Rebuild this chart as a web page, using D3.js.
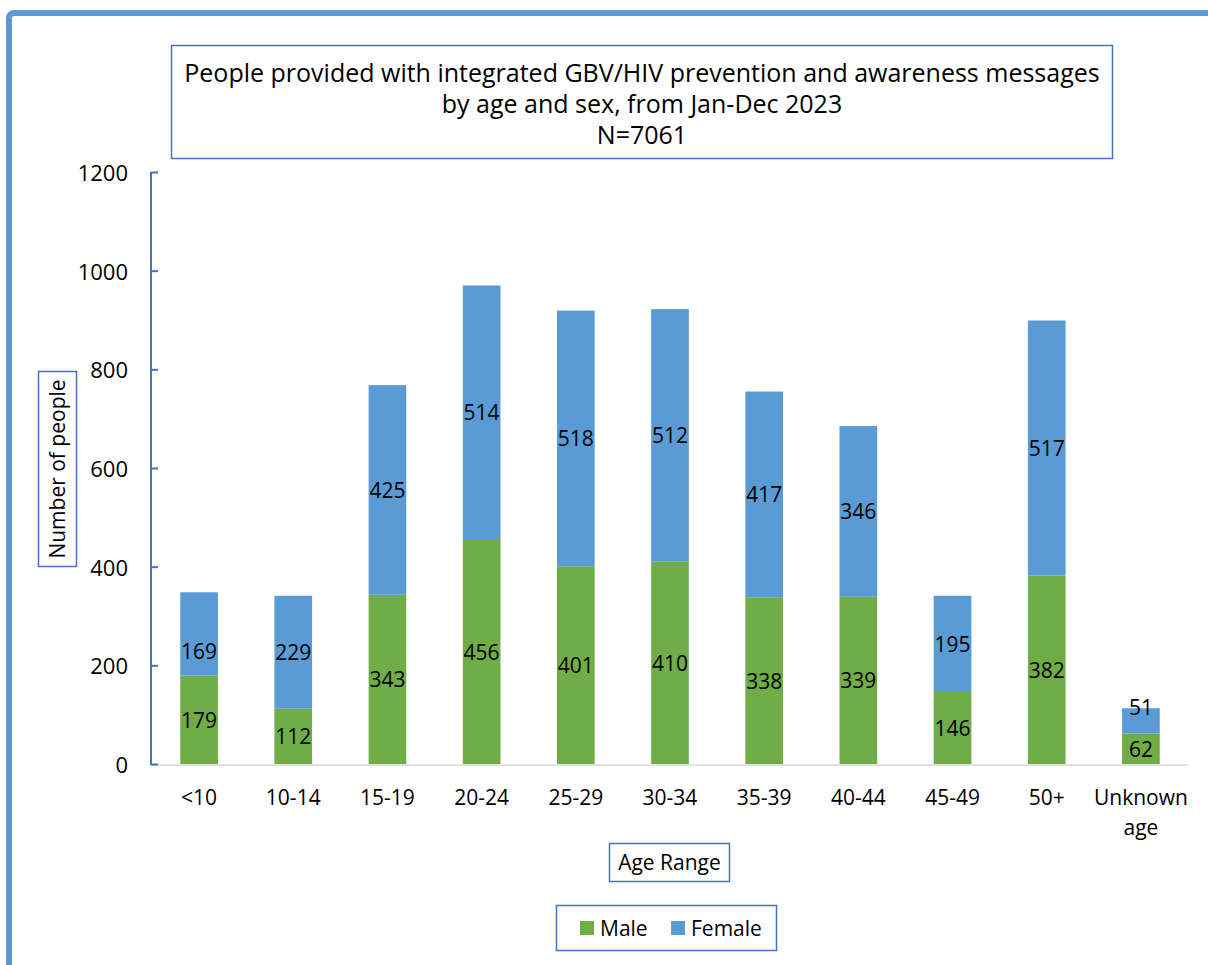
<!DOCTYPE html>
<html>
<head>
<meta charset="utf-8">
<script src="https://cdn.jsdelivr.net/npm/d3@7"></script>
<style>
html,body{margin:0;padding:0;background:#fff;}
svg{display:block;font-family:"Open Sans","Noto Sans",sans-serif;}
</style>
</head>
<body>
<svg id="chart" width="1208" height="965"></svg>
<script>
const categories = ["<10","10-14","15-19","20-24","25-29","30-34","35-39","40-44","45-49","50+","Unknown age"];
const male   = [179,112,343,456,401,410,338,339,146,382,62];
const female = [169,229,425,514,518,512,417,346,195,517,51];
const seriesNames = ["Male","Female"];
const yTicks = [0,200,400,600,800,1000,1200];
const titleLines = ["People provided with integrated GBV/HIV prevention and awareness messages","by age and sex, from Jan-Dec 2023","N=7061"];

const colors = {Male:"#70ad47", Female:"#5b9bd5"};
const frameBlue = "#5b9bd5", axisBlue = "#4472c4";
const FS = 21;

const svg = d3.select("#chart");

// outer frame
svg.append("rect").attr("x",9).attr("y",13).attr("width",1250).attr("height",1000)
  .attr("rx",5).attr("fill","none").attr("stroke",frameBlue).attr("stroke-width",6);

// title box
svg.append("rect").attr("x",171.5).attr("y",45.5).attr("width",941).attr("height",113)
  .attr("fill","#fff").attr("stroke",axisBlue).attr("stroke-width",1.5);
svg.append("g").selectAll("text").data(titleLines).join("text")
  .attr("x",642).attr("y",(d,i)=>72+i*31).attr("text-anchor","middle").attr("dominant-baseline","central")
  .attr("font-size",25).attr("fill","#000").text(d=>d);

const x = d3.scaleBand().domain(categories).range([152,1188]).paddingInner(0.6).paddingOuter(0.3);
const y = d3.scaleLinear().domain([0,1200]).range([764,172]);

const data = categories.map((c,i)=>({cat:c, Male:male[i], Female:female[i]}));
const stack = d3.stack().keys(seriesNames)(data);

// baseline
svg.append("line").attr("x1",150).attr("x2",1188).attr("y1",765).attr("y2",765)
  .attr("stroke","#d9d9d9").attr("stroke-width",1.5);

// bars
const gBars = svg.append("g");
stack.forEach(s=>{
  gBars.append("g").attr("fill",colors[s.key]).selectAll("rect").data(s).join("rect")
    .attr("x",d=>x(d.data.cat)).attr("width",x.bandwidth())
    .attr("y",d=>y(d[1])).attr("height",d=>y(d[0])-y(d[1]));
});

// y axis
const yAxis = d3.axisRight(y).tickValues(yTicks).tickSize(7).tickFormat("");
const gy = svg.append("g").attr("transform","translate(151,0)").call(yAxis);
gy.select(".domain").attr("stroke",axisBlue).attr("stroke-width",2).attr("d","M0,172V765");
gy.selectAll(".tick line").attr("stroke",axisBlue).attr("stroke-width",2);
svg.append("g").selectAll("text").data(yTicks).join("text")
  .attr("x",128).attr("y",d=>y(d)).attr("text-anchor","end").attr("dominant-baseline","central")
  .attr("font-size",22).attr("fill","#000").text(d=>d);

// category labels
const gx = svg.append("g");
categories.forEach(c=>{
  const words = c==="Unknown age" ? ["Unknown","age"] : [c];
  words.forEach((w,j)=>{
    gx.append("text").attr("x",x(c)+x.bandwidth()/2).attr("y",797+j*30)
      .attr("text-anchor","middle").attr("dominant-baseline","central")
      .attr("font-size",FS).attr("fill","#000").text(w);
  });
});

// data labels (a couple were nudged in the original)
const nudge = {"Female|<10":17, "Female|Unknown age":-14};
stack.forEach(s=>{
  svg.append("g").selectAll("text").data(s).join("text")
    .attr("x",d=>x(d.data.cat)+x.bandwidth()/2)
    .attr("y",d=>(y(d[0])+y(d[1]))/2 + (nudge[s.key+"|"+d.data.cat]||0))
    .attr("text-anchor","middle").attr("dominant-baseline","central")
    .attr("font-size",FS).attr("fill","#000").text(d=>d.data[s.key]);
});

// y axis title
svg.append("rect").attr("x",38.5).attr("y",371.5).attr("width",38).attr("height",195)
  .attr("fill","#fff").attr("stroke",axisBlue).attr("stroke-width",1.5);
svg.append("text").attr("transform","translate(57,469) rotate(-90)")
  .attr("text-anchor","middle").attr("dominant-baseline","central")
  .attr("font-size",FS).attr("fill","#000").text("Number of people");

// x axis title
svg.append("rect").attr("x",609.5).attr("y",843.5).attr("width",120).attr("height",38)
  .attr("fill","#fff").attr("stroke",axisBlue).attr("stroke-width",1.5);
svg.append("text").attr("x",669.5).attr("y",862).attr("text-anchor","middle").attr("dominant-baseline","central")
  .attr("font-size",FS).attr("fill","#000").text("Age Range");

// legend
svg.append("rect").attr("x",556.5).attr("y",905.5).attr("width",220).attr("height",45)
  .attr("fill","#fff").attr("stroke",axisBlue).attr("stroke-width",1.5);
const legX = {Male:580, Female:671};
const lg = svg.append("g").selectAll("g").data(seriesNames).join("g")
  .attr("transform",d=>`translate(${legX[d]},928)`);
lg.append("rect").attr("x",0).attr("y",-7).attr("width",14).attr("height",14).attr("fill",d=>colors[d]);
lg.append("text").attr("x",20).attr("y",0).attr("dominant-baseline","central")
  .attr("font-size",FS).attr("fill","#000").text(d=>d);
</script>
</body>
</html>
